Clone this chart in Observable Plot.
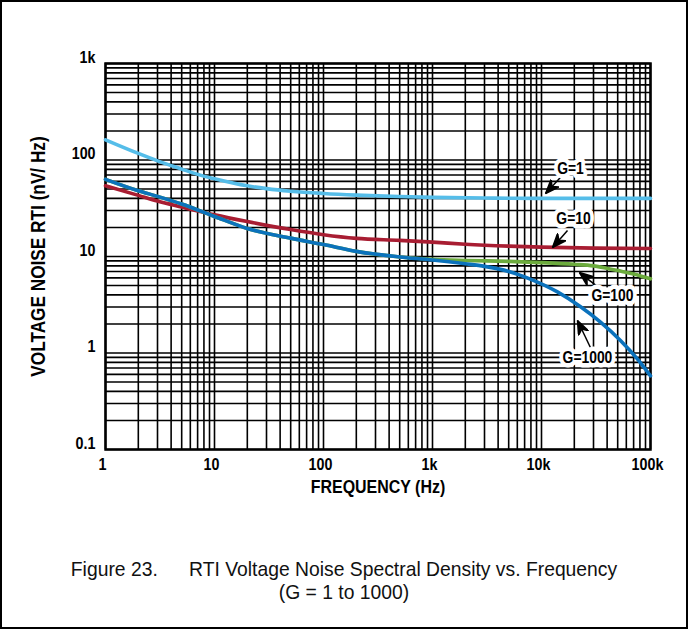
<!DOCTYPE html>
<html><head><meta charset="utf-8">
<script src="https://cdn.jsdelivr.net/npm/d3@7"></script>
<script src="https://cdn.jsdelivr.net/npm/@observablehq/plot@0.6"></script>
<style>
body{margin:0;background:#fff}
#wrap{position:relative;width:688px;height:629px;overflow:hidden;background:#fff}
#border{position:absolute;left:0;top:0;width:688px;height:629px;box-sizing:border-box;border:2px solid #000;pointer-events:none}
#chart{position:absolute;left:0;top:0}
#caption{position:absolute;left:0;width:688px;top:557px;text-align:center;font-family:"Liberation Sans",Arial,sans-serif;font-size:21px;line-height:23px;color:#111;transform:scaleX(0.92);transform-origin:344px 0}
</style></head><body>
<div id="wrap"><div id="chart"></div><div id="caption"><div>Figure 23.<span style="margin-left:34px">RTI Voltage Noise Spectral Density vs. Frequency</span></div><div>(G = 1 to 1000)</div></div><div id="border"></div></div>
<script>
// ---- data ----
const freqG1 = [1, 2, 3, 5, 7, 10, 20, 30, 50, 100, 200, 500, 1000, 3000, 10000, 100000];
const noiseG1 = [162, 117, 98, 80.5, 71, 64, 54, 50.5, 47.5, 45, 43.3, 41.8, 41, 40.4, 40, 40];

const freqG10 = [1, 2, 3, 5, 10, 20, 50, 100, 200, 500, 1000, 2000, 5000, 10000, 30000, 100000];
const noiseG10 = [54, 43, 37.5, 32.5, 27, 23, 19, 16.8, 15.4, 14.7, 14.1, 13.4, 12.8, 12.5, 12.2, 12.1];

const freqG100 = [1, 2, 3, 5, 10, 20, 50, 100, 200, 500, 1000, 2000, 5000, 10000, 20000, 30000, 50000, 70000, 100000];
const noiseG100 = [63, 48, 42, 35, 26, 19.5, 15.5, 13.3, 11.3, 9.9, 9.35, 9.1, 8.9, 8.65, 8.3, 8.0, 7.15, 6.6, 5.87];

const freqG1000 = [1, 2, 3, 5, 10, 20, 50, 100, 200, 500, 1000, 2000, 3000, 5000, 8000, 14000, 23000, 35000, 53000, 75000, 100000];
const noiseG1000 = [63, 48, 42, 35, 26, 19.5, 15.5, 13.3, 11.3, 9.9, 9.2, 8.4, 7.9, 7.0, 5.8, 4.3, 3.0, 2.08, 1.35, 0.88, 0.58];

const seriesNames = ["G=1", "G=10", "G=100", "G=1000"];
const seriesColors = ["#55bde9", "#a81d32", "#6cab3d", "#0b72bc"];

const xTicks = [1, 10, 100, 1000, 10000, 100000];
const xTickLabels = ["1", "10", "100", "1k", "10k", "100k"];
const yTicks = [0.1, 1, 10, 100, 1000];
const yTickLabels = ["0.1", "1", "10", "100", "1k"];

const xTitle = "FREQUENCY (Hz)";
const yTitle = "VOLTAGE NOISE RTI (nV/ Hz)";

// annotations: label position, arrow start, arrow tip (data coordinates)
const annLabel = ["G=1", "G=10", "G=100", "G=1000"];
const annLabelF = [18450, 19660, 44800, 26400];
const annLabelV = [81.6, 24.8, 3.94, 0.897];
const annFromF = [14900, 17330, 33300, 28100];
const annFromV = [65.9, 18.6, 4.78, 1.14];
const annToF = [10900, 12620, 22300, 21400];
const annToV = [45, 12.4, 6.82, 2.17];

// ---- build tables ----
const seriesF = [freqG1, freqG10, freqG100, freqG1000];
const seriesN = [noiseG1, noiseG10, noiseG100, noiseG1000];
const rows = [];
seriesNames.forEach((name, s) => seriesF[s].forEach((f, i) => rows.push({series: name, f, v: seriesN[s][i]})));
const ann = annLabel.map((t, i) => ({t, lf: annLabelF[i], lv: annLabelV[i], f1: annFromF[i], v1: annFromV[i], f2: annToF[i], v2: annToV[i]}));

const FONT = '"Liberation Sans", Arial, sans-serif';
const NARROW = 0.84; // condensed look of the original lettering

const arrowHead = (color, context) => {
  const m = d3.create("svg:marker")
    .attr("viewBox", "-14 -6 15 12")
    .attr("markerWidth", 15).attr("markerHeight", 12)
    .attr("markerUnits", "userSpaceOnUse")
    .attr("refX", 0).attr("refY", 0)
    .attr("orient", "auto");
  m.append("path").attr("d", "M0,0L-14,-5.5L-9.5,0L-14,5.5Z").attr("fill", "#000");
  return m.node();
};

function build(marker) {
  return Plot.plot({
    width: 688, height: 510,
    marginLeft: 105, marginRight: 38, marginTop: 63, marginBottom: 61,
    x: {type: "log", domain: [1, 1e5]},
    y: {type: "log", domain: [0.1, 1000]},
    color: {domain: seriesNames, range: seriesColors},
    style: {fontFamily: FONT, background: "transparent", color: "#000"},
    marks: [
      Plot.gridX({ticks: 60, stroke: "#000", strokeOpacity: 1, strokeWidth: 1.6}),
      Plot.gridY({ticks: 60, stroke: "#000", strokeOpacity: 1, strokeWidth: 1.6}),
      Plot.frame({stroke: "#000", strokeWidth: 2.5}),
      Plot.axisX({ticks: xTicks, tickFormat: d => xTickLabels[xTicks.indexOf(d)], tickSize: 0, tickPadding: 8, dx: -3, fontSize: 17, fontWeight: "bold", label: null}),
      Plot.axisY({ticks: yTicks, tickFormat: d => yTickLabels[yTicks.indexOf(d)], tickSize: 0, tickPadding: 10, dy: -6, fontSize: 17, fontWeight: "bold", label: null}),
      Plot.line(rows, {x: "f", y: "v", z: "series", stroke: "series", strokeWidth: 3.6, curve: "monotone-x"}),
      Plot.link(ann, {x1: "f1", y1: "v1", x2: "f2", y2: "v2", stroke: "#000", strokeWidth: 1.5, markerEnd: marker}),
      Plot.text(ann, {x: "lf", y: "lv", text: "t", fontSize: 16.5, fontWeight: "bold", fill: "#000", stroke: "#fff", strokeWidth: 9, strokeLinejoin: "round", paintOrder: "stroke"}),
      Plot.text([xTitle], {text: d => d, frameAnchor: "bottom", dy: 43, fontSize: 19, fontWeight: "bold"}),
      Plot.text([yTitle], {text: d => d, frameAnchor: "left", textAnchor: "middle", rotate: -90, dx: -67, fontSize: 20.5, fontWeight: "bold"})
    ]
  });
}
let chart;
try { chart = build(arrowHead); } catch (e) { chart = build("arrow"); }
document.getElementById("chart").append(chart);
// condense lettering to match the narrow typeface of the original
chart.querySelectorAll("text").forEach(el => {
  const w = el.getComputedTextLength();
  if (w > 0) {
    el.setAttribute("textLength", (w * NARROW).toFixed(1));
    el.setAttribute("lengthAdjust", "spacingAndGlyphs");
  }
});
</script>
</body></html>
